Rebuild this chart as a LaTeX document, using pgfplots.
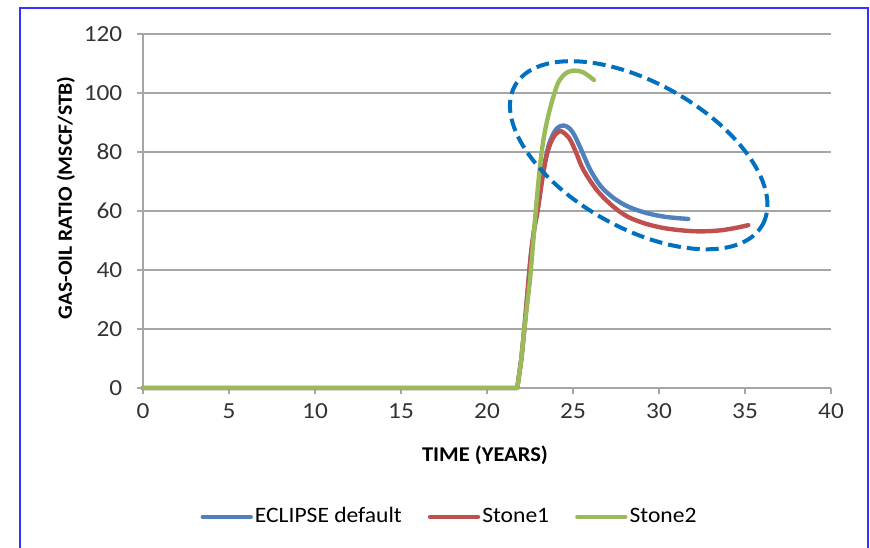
\documentclass[border=0pt]{standalone}
\usepackage{pgfplots}
\pgfplotsset{compat=1.18}
\usepackage{fontspec}
\setmainfont[FakeStretch=1.07]{Carlito}
\newfontfamily\tickfont[FakeStretch=1.1]{Carlito}
\usetikzlibrary{shapes.geometric}
\definecolor{cblue}{HTML}{4F81BD}
\definecolor{cred}{HTML}{C0504D}
\definecolor{cgreen}{HTML}{9BBB59}
\definecolor{gridgray}{HTML}{A6A6A6}
\definecolor{ellblue}{HTML}{0070C0}
\definecolor{frameblue}{HTML}{3333FF}
\begin{document}
\begin{tikzpicture}
\fontsize{11}{13}\selectfont
\draw[frameblue, line width=1pt] (10pt,-5pt) -- (10pt,269.5pt) -- (434pt,269.5pt) -- (434pt,-5pt);
\begin{axis}[
  at={(71.5pt,79.5pt)}, anchor=south west,
  scale only axis, width=344pt, height=177pt,
  xmin=0, xmax=40, ymin=0, ymax=120,
  xtick={0,5,...,40}, ytick={0,20,...,120},
  axis x line*=bottom, axis y line*=left,
  axis line style={gridgray, line width=0.8pt, -},
  tick style={gridgray, line width=0.8pt},
  tick align=outside, major tick length=3pt,
  ymajorgrids, grid style={gridgray, line width=0.8pt},
  clip=false,
  /pgf/number format/assume math mode=true,
  ticklabel style={font=\tickfont\fontsize{11.5}{13}\selectfont, text=black!80},
  yticklabel style={xshift=-3.5pt},
  xticklabel style={yshift=-1pt},
  xlabel={\textbf{TIME (YEARS)}},
  ylabel={\textbf{GAS-OIL RATIO (MSCF/STB)}},
  xlabel style={at={(axis description cs:0.497,-0.189)}, anchor=center, font=\fontsize{10.5}{12}\selectfont},
  ylabel style={at={(axis description cs:-0.112,0.537)}, anchor=center, rotate=0, font=\fontsize{10.1}{12}\selectfont},
  legend columns=3,
  legend style={at={(axis description cs:0.4455,-0.364)}, anchor=center, draw=none, fill=none,
    font=\fontsize{11}{13}\selectfont, /tikz/every even column/.append style={column sep=12pt},
    inner sep=0pt, nodes={inner sep=1pt}},
  legend image code/.code={\draw[#1, line cap=round] (0pt,0pt) -- (24pt,0pt);},
  every axis plot/.append style={line width=2.2pt, line join=round, line cap=round},
]
% ECLIPSE default
\addplot[cblue, forget plot] coordinates {(0,0) (21.76,0) (22.0,10) (22.17,20)};
\addplot[cblue, smooth, tension=0.55] coordinates {
(22.17,20) (22.38,34) (22.55,45) (22.75,54) (22.94,60.5) (23.18,70) (23.4,77.5) (23.6,82.5) (23.86,86.2) (24.1,88.2) (24.44,89) (24.8,88) (25.1,85.5) (25.5,80.5) (26.0,74) (26.6,68.5) (27.34,64.5) (28.2,61.5) (29.28,59.3) (30.4,58) (31.7,57.3)
};
\addlegendentry{ECLIPSE default}
% Stone1
\addplot[cred, forget plot] coordinates {(0,0) (21.76,0) (22.0,10) (22.17,20)};
\addplot[cred, smooth, tension=0.55] coordinates {
(22.17,20) (22.38,34) (22.55,45) (22.75,54) (22.94,60) (23.18,69.5) (23.4,77) (23.6,81.5) (23.86,85) (24.1,86.6) (24.34,87) (24.8,84.5) (25.2,79.5) (25.6,74) (26.4,67) (27.34,61.5) (28.2,58) (29.28,55.6) (30.4,54.1) (31.6,53.3) (32.5,53.1) (33.5,53.4) (34.4,54.2) (35.19,55.2)
};
\addlegendentry{Stone1}
% Stone2
\addplot[cgreen, forget plot] coordinates {(0,0) (21.76,0) (22.0,10) (22.17,20)};
\addplot[cgreen, smooth, tension=0.55] coordinates {
(22.17,20) (22.5,36.6) (22.6,43.4) (22.83,59.8) (23.0,70.5) (23.18,80.1) (23.35,86.5) (23.55,92) (23.8,97.6) (24.13,103.4) (24.5,106.3) (24.8,107.3) (25.12,107.6) (25.6,107) (26.22,104.4)
};
\addlegendentry{Stone2}
\node[draw=ellblue, line width=2pt, dash pattern=on 6.5pt off 3pt, ellipse, inner sep=0pt,
  minimum width=142pt, minimum height=72.5pt, rotate=-29.4] at (axis cs:28.82,78.9) {};
\end{axis}
\pgfresetboundingbox
\useasboundingbox (0,0) rectangle (435pt,273.5pt);
\end{tikzpicture}
\end{document}
